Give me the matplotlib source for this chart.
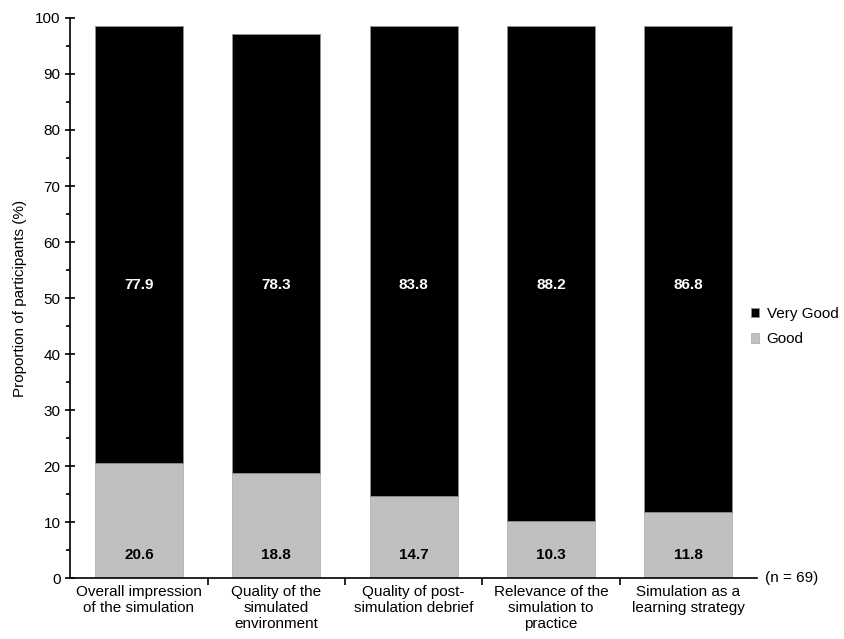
import matplotlib.pyplot as plt
from matplotlib.ticker import MultipleLocator

plt.rcParams['font.family'] = ['Liberation Sans', 'DejaVu Sans']

categories = ["Overall impression\nof the simulation",
              "Quality of the\nsimulated\nenvironment",
              "Quality of post-\nsimulation debrief",
              "Relevance of the\nsimulation to\npractice",
              "Simulation as a\nlearning strategy"]
good = [20.6, 18.8, 14.7, 10.3, 11.8]
very_good = [77.9, 78.3, 83.8, 88.2, 86.8]

fig = plt.figure(figsize=(8.45, 6.39), dpi=100)
ax = fig.add_axes([0.083, 0.095, 0.813, 0.877])

x = range(len(categories))
ax.bar(x, good, width=0.64, color="#c0c0c0", edgecolor="#b0b0b0", linewidth=0.6, label="Good")
ax.bar(x, very_good, width=0.64, bottom=good, color="black", edgecolor="#909090", linewidth=0.6,
       label="Very Good")

# valeurs dans les barres
for i in x:
    ax.text(i, 4.2, f"{good[i]:.1f}", ha="center", va="center", fontsize=11, fontweight="bold", color="black")
    ax.text(i, 52.3, f"{very_good[i]:.1f}", ha="center", va="center", fontsize=11, fontweight="bold",
            color="white")

ax.set_xlim(-0.5, len(categories) - 0.5)
ax.set_ylim(0, 100)
ax.yaxis.set_major_locator(MultipleLocator(10))
ax.yaxis.set_minor_locator(MultipleLocator(5))
ax.tick_params(axis="y", which="major", direction="inout", length=7, width=1.2, labelsize=11)
ax.tick_params(axis="y", which="minor", direction="out", length=3, width=1.2)

# ticks de l'axe x entre les catégories
ax.set_xticks([i + 0.5 for i in range(len(categories) - 1)])
ax.set_xticklabels([])
ax.set_xticks(list(x), minor=True)
ax.set_xticklabels(categories, minor=True, fontsize=11, linespacing=1.15)
ax.tick_params(axis="x", which="major", direction="out", length=5, width=1.2)
ax.tick_params(axis="x", which="minor", length=0, pad=5)

for side in ["top", "right"]:
    ax.spines[side].set_visible(False)
for side in ["left", "bottom"]:
    ax.spines[side].set_linewidth(1.2)

ax.set_ylabel("Proportion of participants (%)", fontsize=11, labelpad=6)
ax.text(1.012, 0, "(n = 69)", transform=ax.transAxes, fontsize=11, va="center", ha="left")

handles, labels = ax.get_legend_handles_labels()
ax.legend(handles[::-1], labels[::-1], loc="center left", bbox_to_anchor=(0.975, 0.449), frameon=False,
          fontsize=11, handlelength=0.55, handleheight=0.55, handletextpad=0.5, labelspacing=0.75,
          borderpad=0.2)

fig.savefig("out.png", dpi=100)
